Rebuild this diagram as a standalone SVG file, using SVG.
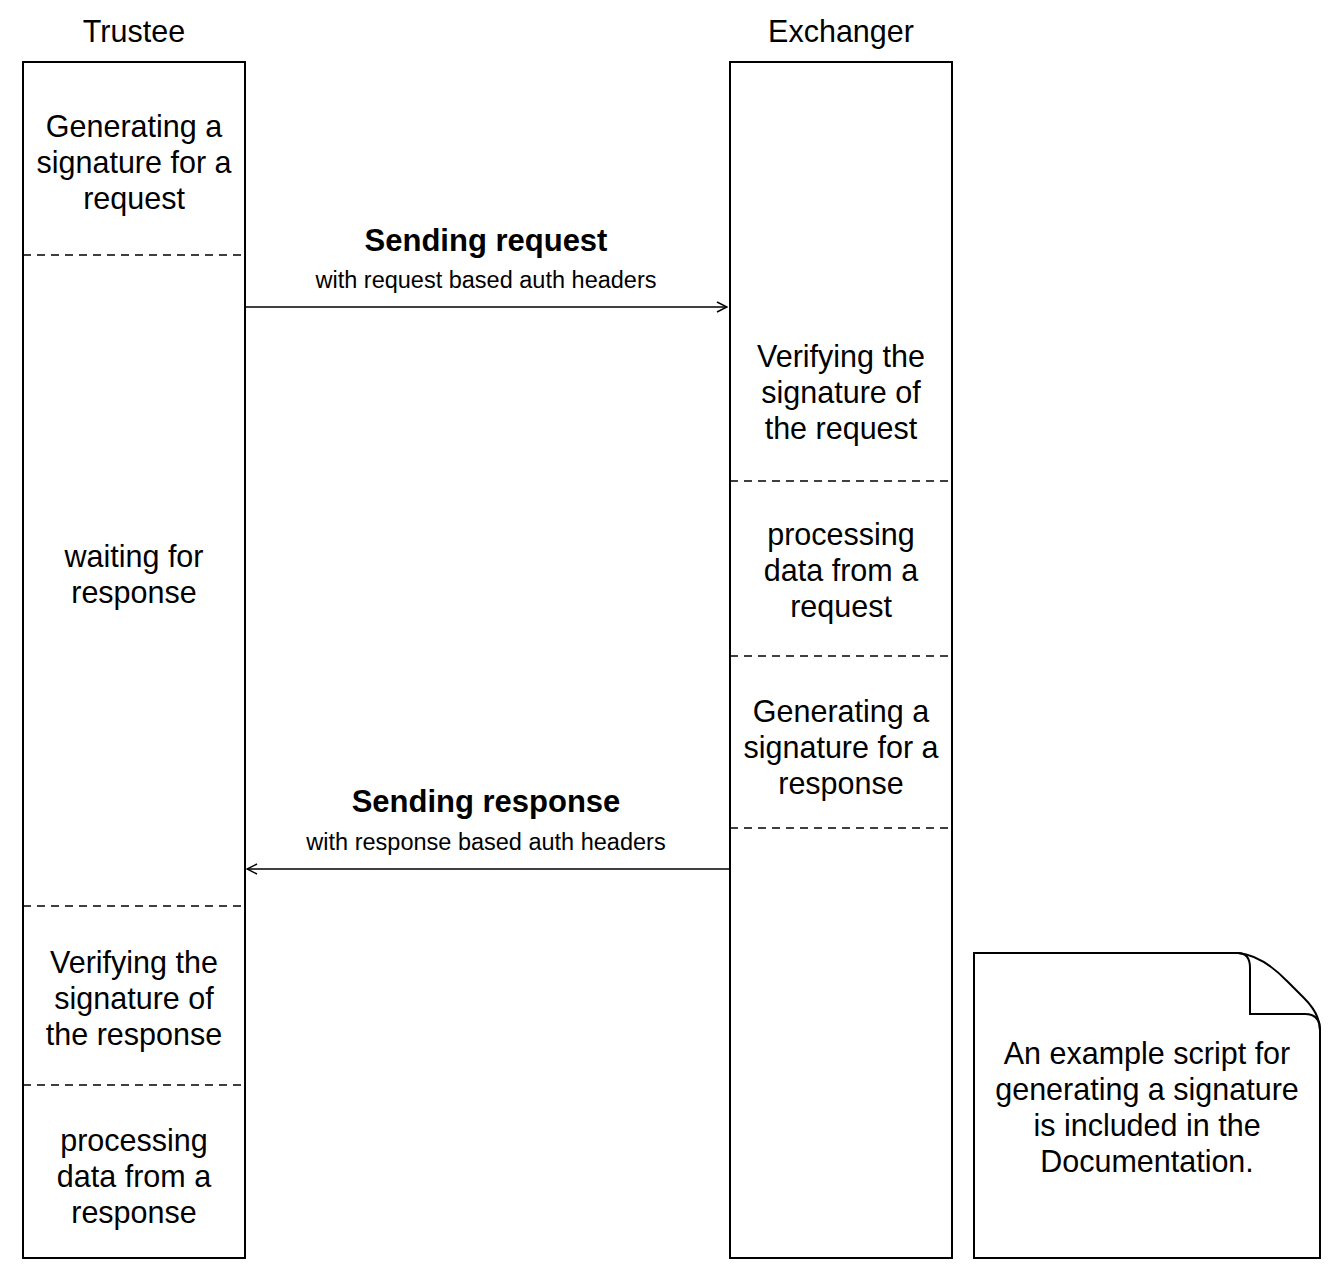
<svg xmlns="http://www.w3.org/2000/svg" width="1344" height="1277" viewBox="0 0 1344 1277">
<style>
text{font-family:"Liberation Sans",Arial,sans-serif;fill:#000;text-anchor:middle}
.t{font-size:30.5px}
.b{font-size:31px;font-weight:bold}
.s{font-size:23.5px}
.box{fill:#fff;stroke:#000;stroke-width:2}
.dash{stroke:#000;stroke-width:1.5;stroke-dasharray:8 6;fill:none}
.conn{stroke:#000;stroke-width:1.5;fill:none}
</style>
<defs>
<marker id="arr" viewBox="0 0 12 12" refX="11" refY="6" markerWidth="12" markerHeight="12" markerUnits="userSpaceOnUse" orient="auto">
<path d="M1,1 L11,6 L1,11" fill="none" stroke="#000" stroke-width="1.5"/>
</marker>
</defs>
<rect width="1344" height="1277" fill="#fff"/>
<g id="trustee">
<text class="t" x="134" y="42">Trustee</text>
<rect class="box" x="23" y="62" width="222" height="1196"/>
<line class="dash" x1="23" y1="255" x2="245" y2="255"/>
<line class="dash" x1="23" y1="906" x2="245" y2="906"/>
<line class="dash" x1="23" y1="1085" x2="245" y2="1085"/>
<text class="t" x="134" y="137">Generating a</text>
<text class="t" x="134" y="173">signature for a</text>
<text class="t" x="134" y="209">request</text>
<text class="t" x="134" y="567">waiting for</text>
<text class="t" x="134" y="603">response</text>
<text class="t" x="134" y="973">Verifying the</text>
<text class="t" x="134" y="1009">signature of</text>
<text class="t" x="134" y="1045">the response</text>
<text class="t" x="134" y="1151">processing</text>
<text class="t" x="134" y="1187">data from a</text>
<text class="t" x="134" y="1223">response</text>
</g>
<g id="exchanger">
<text class="t" x="841" y="42">Exchanger</text>
<rect class="box" x="730" y="62" width="222" height="1196"/>
<line class="dash" x1="730" y1="481" x2="952" y2="481"/>
<line class="dash" x1="730" y1="656" x2="952" y2="656"/>
<line class="dash" x1="730" y1="828" x2="952" y2="828"/>
<text class="t" x="841" y="367">Verifying the</text>
<text class="t" x="841" y="403">signature of</text>
<text class="t" x="841" y="439">the request</text>
<text class="t" x="841" y="545">processing</text>
<text class="t" x="841" y="581">data from a</text>
<text class="t" x="841" y="617">request</text>
<text class="t" x="841" y="722">Generating a</text>
<text class="t" x="841" y="758">signature for a</text>
<text class="t" x="841" y="794">response</text>
</g>
<g id="note">
<path class="box" d="M974,953 H1238 Q1262,955 1288,982 L1304,998 Q1320,1014 1320,1030 V1258 H974 Z"/>
<path d="M1238,953 Q1250,953 1250,968 V1014 H1305 Q1320,1014 1320,1030" fill="none" stroke="#000" stroke-width="2"/>
<text class="t" x="1147" y="1064">An example script for</text>
<text class="t" x="1147" y="1100">generating a signature</text>
<text class="t" x="1147" y="1136">is included in the</text>
<text class="t" x="1147" y="1172">Documentation.</text>
</g>
<g id="connectors">
<line class="conn" x1="245" y1="307" x2="727" y2="307" marker-end="url(#arr)"/>
<text class="b" x="486" y="251">Sending request</text>
<text class="s" x="486" y="288">with request based auth headers</text>
<line class="conn" x1="730" y1="869" x2="247" y2="869" marker-end="url(#arr)"/>
<text class="b" x="486" y="812">Sending response</text>
<text class="s" x="486" y="850">with response based auth headers</text>
</g>
</svg>
